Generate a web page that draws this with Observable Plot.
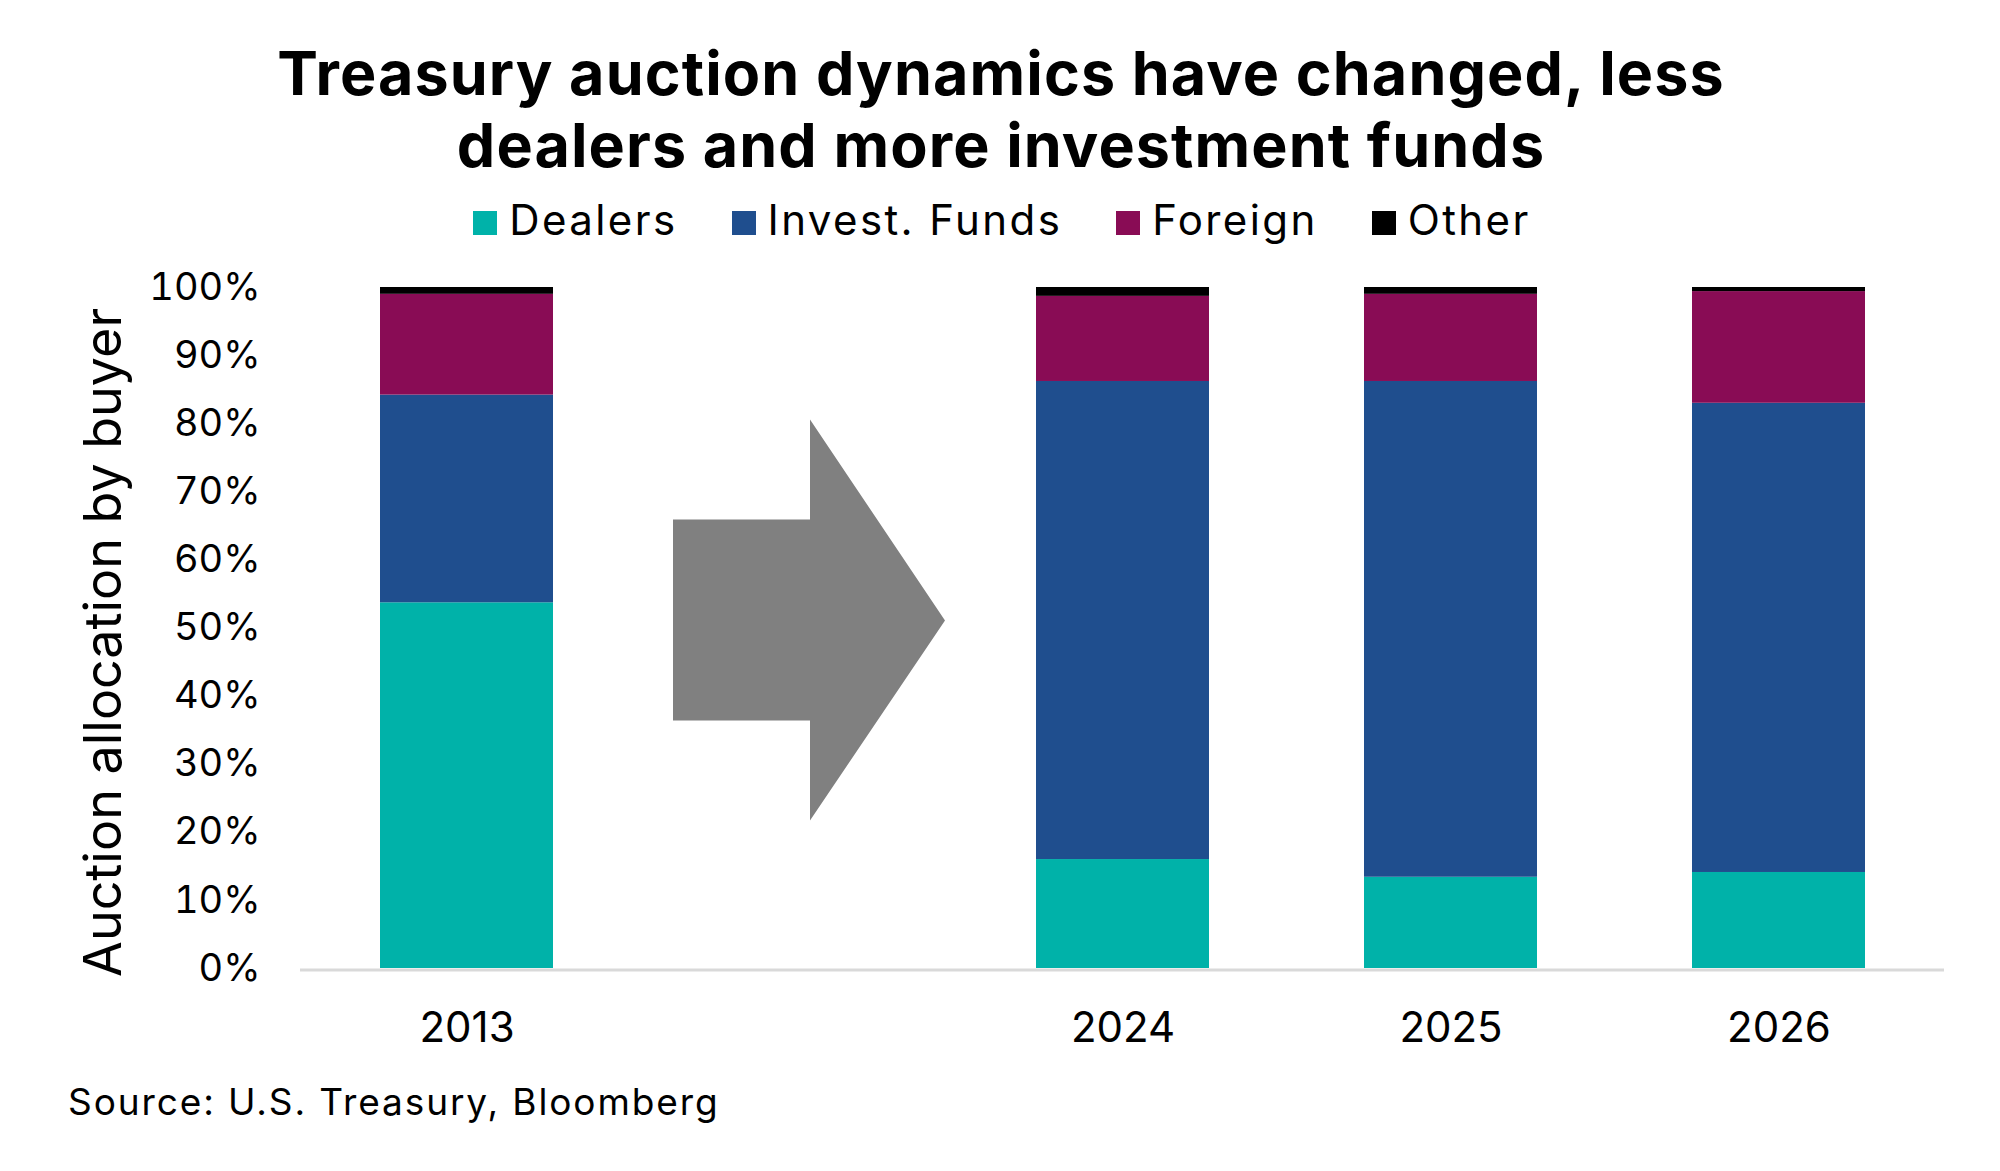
<!DOCTYPE html>
<html>
<head>
<meta charset="utf-8">
<script src="https://cdn.jsdelivr.net/npm/d3@7"></script>
<script src="https://cdn.jsdelivr.net/npm/@observablehq/plot@0.6"></script>
<style>
  html, body { margin: 0; padding: 0; background: #fff; }
  body { width: 2000px; font-family: Inter, "Open Sans", sans-serif; color: #000; }
  #header { position: relative; height: 260px; width: 2000px; }
  #title { position: absolute; top: 37px; left: 0; width: 2002px; text-align: center;
           font-weight: 700; font-size: 61px; line-height: 72px; letter-spacing: 1.1px; }
  #legend { position: absolute; top: 195px; left: 0; width: 2004px; text-align: center;
            font-size: 42px; line-height: 50px; letter-spacing: 2.4px; white-space: nowrap; }
  .item { display: inline-block; margin: 0 27px; }
  .sw { display: inline-block; width: 24px; height: 24px; margin-right: 12px; vertical-align: baseline; }
  #caption { margin-top: 10px; padding-left: 68px; font-size: 37px; line-height: 44px; letter-spacing: 1.9px; }
  svg { display: block; }
</style>
</head>
<body>
<div id="header">
  <div id="title">Treasury auction dynamics have changed, less<br>dealers and more investment funds</div>
  <div id="legend"></div>
</div>
<div id="chart"></div>
<div id="caption">Source: U.S. Treasury, Bloomberg</div>
<script>
// ---- data ----
const years = ["2013", " ", "2024", "2025", "2026"];   // " " = gap slot holding the arrow
const barYears = ["2013", "2024", "2025", "2026"];
const series = ["Dealers", "Invest. Funds", "Foreign", "Other"];
const colors = ["#00b2a9", "#1f4e8e", "#890c55", "#000000"];
const dealers = [53.7, 16.0, 13.4, 14.1];
const investFunds = [30.5, 70.2, 72.8, 68.9];
const foreign = [14.8, 12.5, 12.8, 16.4];
const other = [1.0, 1.3, 1.0, 0.6];
const yTicks = [0, 10, 20, 30, 40, 50, 60, 70, 80, 90, 100];
const arrowAt = [{year: " ", value: 51.1}];

const valuesBySeries = [dealers, investFunds, foreign, other];
const data = [];
barYears.forEach((yr, i) => {
  series.forEach((s, j) => data.push({year: yr, series: s, value: valuesBySeries[j][i]}));
});

// legend
const legend = document.getElementById("legend");
series.forEach((s, j) => {
  const it = document.createElement("span");
  it.className = "item";
  const sw = document.createElement("span");
  sw.className = "sw";
  sw.style.background = colors[j];
  it.appendChild(sw);
  it.appendChild(document.createTextNode(s));
  legend.appendChild(it);
});

// block-arrow symbol (pixel shape around its anchor)
const arrowSymbol = {
  draw(ctx) {
    ctx.moveTo(-136, -101);
    ctx.lineTo(1, -101);
    ctx.lineTo(1, -201);
    ctx.lineTo(136, 0);
    ctx.lineTo(1, 200);
    ctx.lineTo(1, 100);
    ctx.lineTo(-136, 100);
    ctx.closePath();
  }
};

const chart = Plot.plot({
  width: 2000,
  height: 810,
  marginTop: 27,
  marginBottom: 102,
  marginLeft: 300,
  marginRight: 56,
  style: {fontFamily: "Inter, 'Open Sans', sans-serif", fontSize: "42px", color: "#000", background: "transparent"},
  x: {domain: years, paddingInner: 0.474, paddingOuter: 0.237, label: null},
  y: {domain: [0, 100], label: null},
  color: {domain: series, range: colors},
  marks: [
    Plot.barY(data, {x: "year", y: "value", fill: "series"}),
    Plot.ruleY([0], {stroke: "#d9d9d9", strokeWidth: 3, dy: 1.5}),
    Plot.axisX({tickSize: 0, tickPadding: 44, fontSize: 42, label: null}),
    Plot.axisY({ticks: yTicks, tickFormat: d => d + "%", tickSize: 0, tickPadding: 40, fontSize: 38, label: null}),
    Plot.dot(arrowAt, {x: "year", y: "value", symbol: arrowSymbol, fill: "#808080", stroke: null, dx: 14}),
    Plot.text(["Auction allocation by buyer"], {frameAnchor: "left", textAnchor: "middle", rotate: -90, dx: -196, dy: 14.5, fontSize: 52, letterSpacing: 1.8, fill: "#000"})
  ]
});
document.getElementById("chart").appendChild(chart);
</script>
</body>
</html>
